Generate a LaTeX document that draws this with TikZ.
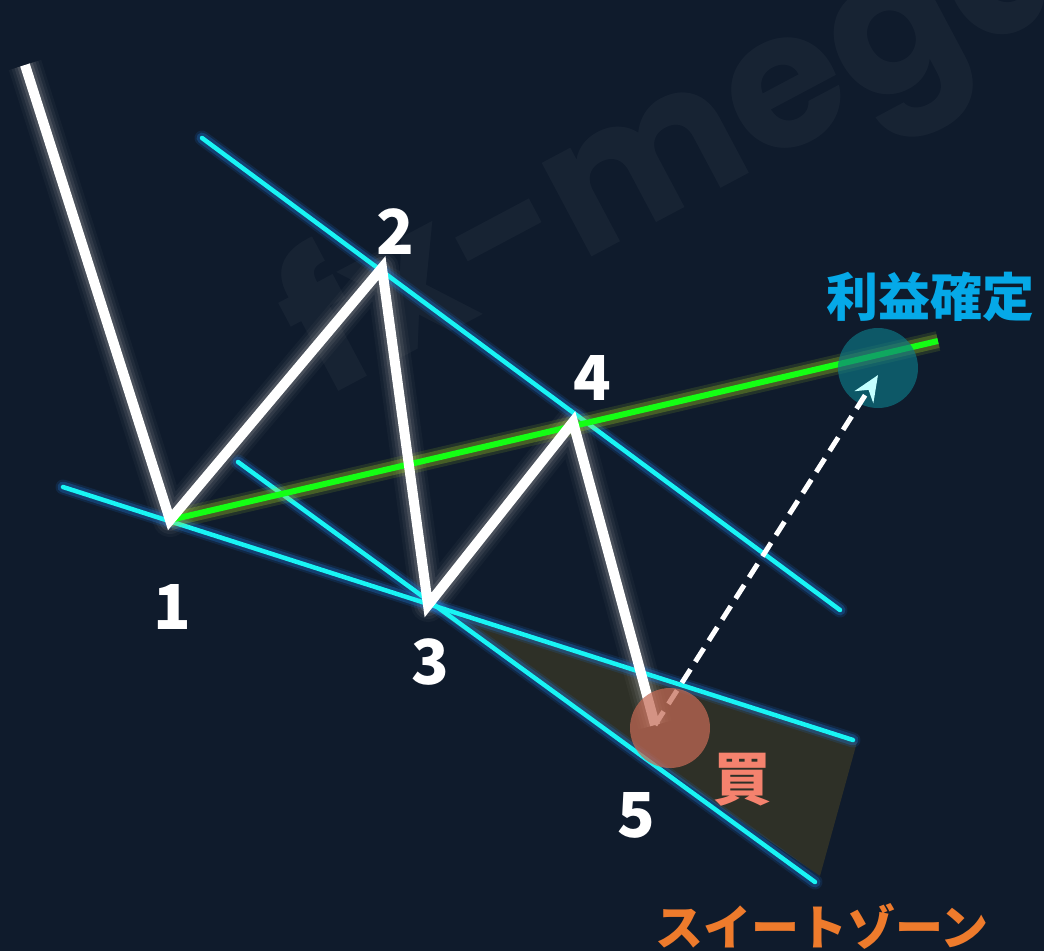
\documentclass[tikz,border=0pt]{standalone}
\usepackage{fontspec}
\newfontfamily\jp{Noto Sans CJK JP}
\newfontfamily\wm{Poppins}
\usetikzlibrary{arrows.meta}
\definecolor{bg}{HTML}{0F1B2C}
\definecolor{chan}{HTML}{19F4F4}
\definecolor{changlow}{HTML}{1E78D8}
\definecolor{tgt}{HTML}{14FF14}
\definecolor{tgtglow}{HTML}{B4E61E}
\definecolor{zone}{HTML}{2E3027}
\definecolor{buy}{HTML}{C46A55}
\definecolor{exit}{HTML}{0D7A88}
\definecolor{profit}{HTML}{05A9E8}
\definecolor{buytext}{HTML}{F4826E}
\definecolor{sweet}{HTML}{EE7B2C}
\definecolor{tip}{HTML}{C4FFFF}

\begin{document}
\begin{tikzpicture}[x=1pt, y=-1pt,
  wave/.style={white, line width=10},
  chanline/.style={chan, line width=4.5, line cap=round},
  num/.style={white, font=\jp\bfseries\fontsize{62}{62}\selectfont},
  cjk/.style={font=\jp\bfseries\fontsize{#1}{#1}\selectfont}]
\fill[bg] (0,0) rectangle (1044,951);
\clip (0,0) rectangle (1044,951);
\useasboundingbox (0,0) rectangle (1044,951);

\node[white, opacity=.035, font=\wm\bfseries\fontsize{190}{190}\selectfont, rotate=28, anchor=base west] (mark) at (322,400) {fx-mega};

\coordinate (w0) at (25,65);
\coordinate (w1) at (170,520);
\coordinate (w2) at (382,268);
\coordinate (w3) at (428,605);
\coordinate (w4) at (573,422);
\coordinate (w5) at (655,725);
\coordinate (ua) at (202,138);
\coordinate (ub) at (840,610);
\coordinate (la) at (63,487);
\coordinate (lb) at (853,740);
\coordinate (ma) at (238,462);
\coordinate (mb) at (815,882);
\coordinate (g) at (938,341);
\coordinate (za) at (857,742);
\coordinate (zb) at (820,876);

\fill[zone] (w3) -- (za) -- (zb) -- cycle;

\foreach \w/\o in {34/.05,28/.08,22/.12,16/.2}
  \draw[gray!70, line width=\w, opacity=\o, line join=round] (w0) -- (w1) -- (w2) -- (w3) -- (w4) -- (w5);

\foreach \w/\o in {15/.15,11/.3}{
  \draw[changlow, line width=\w, opacity=\o, line cap=round] (ua) -- (ub);
  \draw[changlow, line width=\w, opacity=\o, line cap=round] (la) -- (lb);
  \draw[changlow, line width=\w, opacity=\o, line cap=round] (ma) -- (mb);
}
\draw[chanline] (ua) -- (ub);
\draw[chanline] (la) -- (lb);
\draw[chanline] (ma) -- (mb);

\foreach \w/\o in {20/.12,14/.25}
  \draw[tgtglow, line width=\w, opacity=\o] (w1) -- (g);
\draw[tgt, line width=6] (w1) -- (g);

\draw[wave] (w0) -- (w1) -- (w2) -- (w3) -- (w4) -- (w5);

\fill[exit, opacity=.65] (878,368) circle (40);

\coordinate (tp) at (878,375);
\draw[white, line width=5, dash pattern=on 16pt off 9pt, -{Stealth[length=26pt, width=22pt, color=tip]}] (w5) -- (tp);

\fill[buy, opacity=.72] (670,728) circle (40);

\node[num] (n1) at (172,607) {1};
\node[num] (n2) at (395,232) {2};
\node[num] (n3) at (430,662) {3};
\node[num] (n4) at (592,378) {4};
\node[num] (n5) at (636,815) {5};

\node[cjk=52, profit] (rieki) at (930,297) {利益確定};
\node[cjk=58, buytext] (kai) at (742,780) {買};
\node[cjk=48, sweet] (zonelabel) at (822,926) {スイートゾーン};
\end{tikzpicture}
\end{document}
